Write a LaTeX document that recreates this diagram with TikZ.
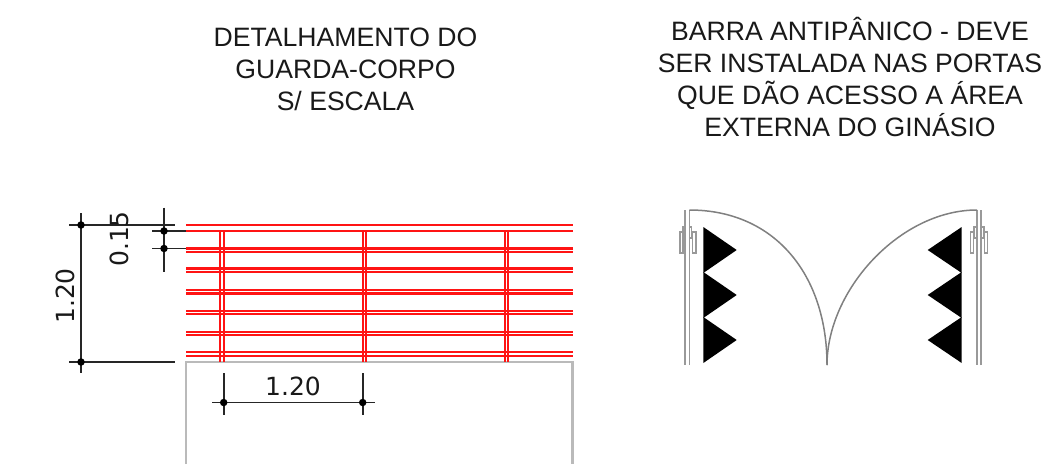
\documentclass[tikz,border=0pt]{standalone}
\usepackage{fontspec}
\setmainfont{Liberation Sans}
\newfontfamily\dimfont{DejaVu Sans}
\tikzset{
 rail/.style={draw=red!92!white,line width=2.1pt},
 post/.style={draw=red!92!white,line width=1.9pt},
 dimline/.style={draw=black!85,line width=1.7pt},
 dimdot/.style={circle,fill=black,inner sep=0pt,minimum size=7.5pt},
 base/.style={draw=black!27,line width=2.2pt},
 wall/.style={draw=black!40,line width=1.5pt},
 swing/.style={draw=black!50,line width=1.5pt},
 hw/.style={draw=black!40,line width=1.4pt,fill=white},
 solidtri/.style={fill=black},
 title/.style={align=center,font=\fontsize{26.6}{32}\selectfont,text=black!90,inner sep=0pt},
 dimtext/.style={font=\dimfont\fontsize{25}{25}\selectfont,text=black!90,inner sep=0pt}
}
\begin{document}
\begin{tikzpicture}[x=1pt,y=-1pt]
\useasboundingbox (0,0) rectangle (1048,474);
\node[title] (t1) at (345.5,69) {DETALHAMENTO DO\\GUARDA-CORPO\\S/ ESCALA};
\node[title] (t2) at (850,77) {BARRA ANTIPÂNICO - DEVE\\SER INSTALADA NAS PORTAS\\QUE DÃO ACESSO A ÁREA\\EXTERNA DO GINÁSIO};
% base
\draw[base] (186,464) -- (186,362) -- (572.5,362) -- (572.5,464);
% posts
\foreach \x in {220.3,223.7,362.7,366,505,508.3}
  \draw[post] (\x,231) -- (\x,362);
% rails
\foreach \y in {225,231,248.5,252,268.5,272,290,293.5,310.7,314,331.7,335,352.3,355.7}
  \draw[rail] (186,\y) -- (573,\y);
% dims: 1.20 vertical
\coordinate (a0) at (81,213); \coordinate (a1) at (81,373);
\coordinate (a2) at (69,225); \coordinate (a3) at (175,225);
\coordinate (a4) at (69,362); \coordinate (a5) at (175,362);
\draw[dimline] (a0) -- (a1); \draw[dimline] (a2) -- (a3); \draw[dimline] (a4) -- (a5);
\node[dimdot] (d1) at (81,225) {}; \node[dimdot] (d2) at (81,362) {};
\node[dimtext,rotate=90] (l1) at (65,296) {1.20};
% dims: 0.15
\coordinate (b0) at (164,207.5); \coordinate (b1) at (164,272);
\coordinate (b2) at (152,231); \coordinate (b3) at (186,231);
\coordinate (b4) at (152,248.5); \coordinate (b5) at (186,248.5);
\draw[dimline] (b0) -- (b1); \draw[dimline] (b2) -- (b3); \draw[dimline] (b4) -- (b5);
\node[dimdot] (d3) at (164,231) {}; \node[dimdot] (d4) at (164,248.5) {};
\node[dimtext,rotate=90] (l2) at (119,239) {0.15};
% dims: 1.20 horizontal
\coordinate (c0) at (212,402.5); \coordinate (c1) at (375,402.5);
\coordinate (c2) at (223.7,373); \coordinate (c3) at (223.7,415);
\coordinate (c4) at (362.7,373); \coordinate (c5) at (362.7,415);
\draw[dimline] (c0) -- (c1); \draw[dimline] (c2) -- (c3); \draw[dimline] (c4) -- (c5);
\node[dimdot] (d5) at (223.7,402.5) {}; \node[dimdot] (d6) at (362.7,402.5) {};
\node[dimtext] (l3) at (293,386) {1.20};
% left door
\draw[wall] (685,210) -- (685,365);
\draw[wall] (689.3,365) -- (689.3,210);
\draw[swing] (689.3,210) .. controls (775,210) and (827,275) .. (827,365);
\draw[hw] (680,232) rectangle (683,253);
\draw[hw] (692.5,232) rectangle (696,253);
\draw[hw] (683,227) rectangle (685,238);
\draw[hw] (689.3,227) rectangle (691.5,238);
\fill[solidtri] (703.3,227) -- (736.7,250) -- (703.3,273) -- cycle;
\fill[solidtri] (703.3,272) -- (736.7,295) -- (703.3,318) -- cycle;
\fill[solidtri] (703.3,317) -- (736.7,340) -- (703.3,363) -- cycle;
% right door
\draw[wall] (977,210) -- (977,365);
\draw[wall] (981,365) -- (981,210);
\draw[swing] (977,210) .. controls (900,210) and (827,290) .. (827,365);
\draw[hw] (970.5,232) rectangle (973.5,253);
\draw[hw] (984.5,232) rectangle (987.5,253);
\draw[hw] (974,227) rectangle (977,238);
\draw[hw] (981,227) rectangle (984,238);
\fill[solidtri] (961.7,227) -- (927.7,250) -- (961.7,273) -- cycle;
\fill[solidtri] (961.7,272) -- (927.7,295) -- (961.7,318) -- cycle;
\fill[solidtri] (961.7,317) -- (927.7,340) -- (961.7,363) -- cycle;
\end{tikzpicture}
\end{document}
